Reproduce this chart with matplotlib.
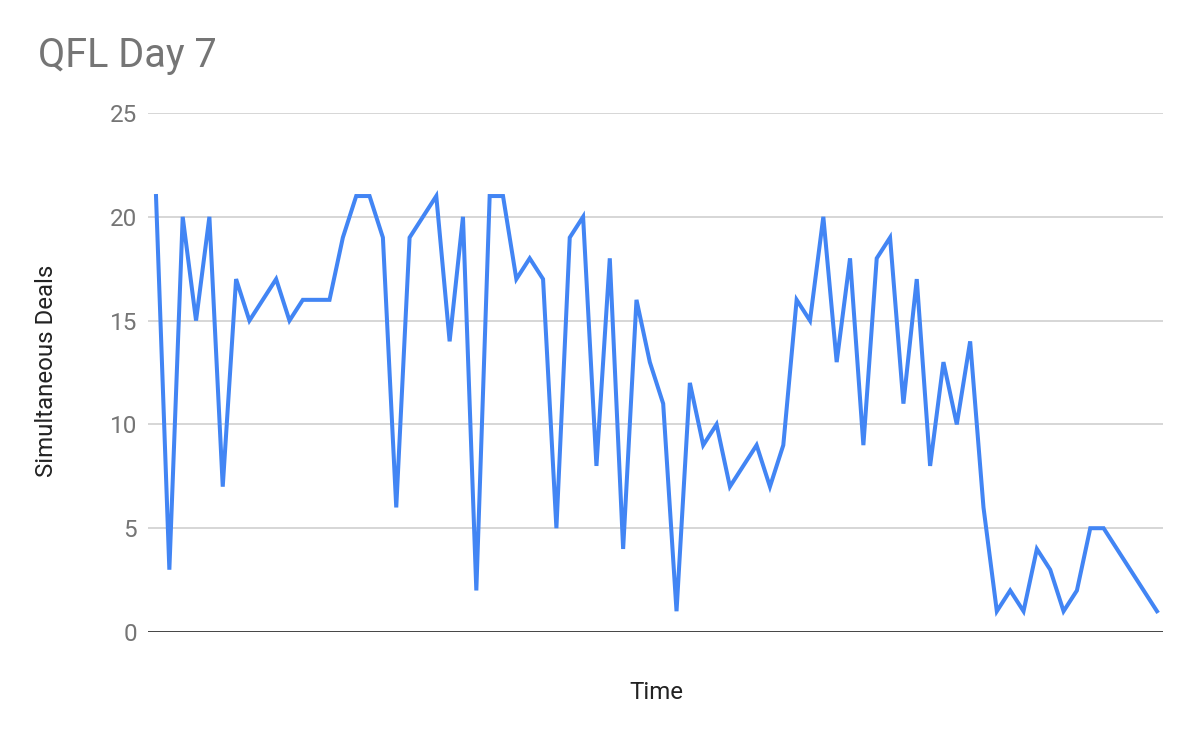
import matplotlib.pyplot as plt
import numpy as np

plt.rcParams['font.family'] = ['Roboto', 'DejaVu Sans']

LINE_COL = "#4285f4"

title = "QFL Day 7"
x_label = "Time"
y_label = "Simultaneous Deals"
y_ticks = [0, 5, 10, 15, 20, 25]

deals = [21, 3, 20, 15, 20, 7, 17, 15, 16, 17,
         15, 16, 16, 16, 19, 21, 21, 19, 6, 19,
         20, 21, 14, 20, 2, 21, 21, 17, 18, 17,
         5, 19, 20, 8, 18, 4, 16, 13, 11, 1,
         12, 9, 10, 7, 8, 9, 7, 9, 16, 15,
         20, 13, 18, 9, 18, 19, 11, 17, 8, 13,
         10, 14, 6, 1, 2, 1, 4, 3, 1, 2,
         5, 5, 4, 3, 2, 1]

fig = plt.figure(figsize=(12, 7.42), dpi=100)
ax = fig.add_axes([148 / 1200, 1 - 632 / 742, (1163 - 148) / 1200, (632 - 113) / 742])

x = np.arange(len(deals))
ax.plot(x, deals, color=LINE_COL, lw=2.9, solid_joinstyle='miter', zorder=3)

ax.set_xlim(-0.6, len(deals) - 1 + 0.45)
ax.set_ylim(0, 25)
ax.set_yticks(y_ticks)
ax.set_xticks([])
for t in y_ticks[1:]:
    ax.axhline(t, color="#cccccc", lw=1.1, zorder=1)
ax.axhline(0, color="#333333", lw=2.0, zorder=2)

for s in ax.spines.values():
    s.set_visible(False)
ax.tick_params(axis='y', length=0, pad=8, labelsize=17.5, labelcolor="#757575")

fig.text(38 / 1200, 1 - 67 / 742, title, fontsize=28.5, color="#757575",
         ha='left', va='baseline')
fig.text(656 / 1200, 1 - 699 / 742, x_label, fontsize=17.3, color="#222222",
         ha='center', va='baseline')
fig.text(47 / 1200, 1 - 371 / 742, y_label, fontsize=17.3, color="#222222",
         ha='center', va='center', rotation=90)

fig.savefig('out.png', dpi=100, facecolor='white')
